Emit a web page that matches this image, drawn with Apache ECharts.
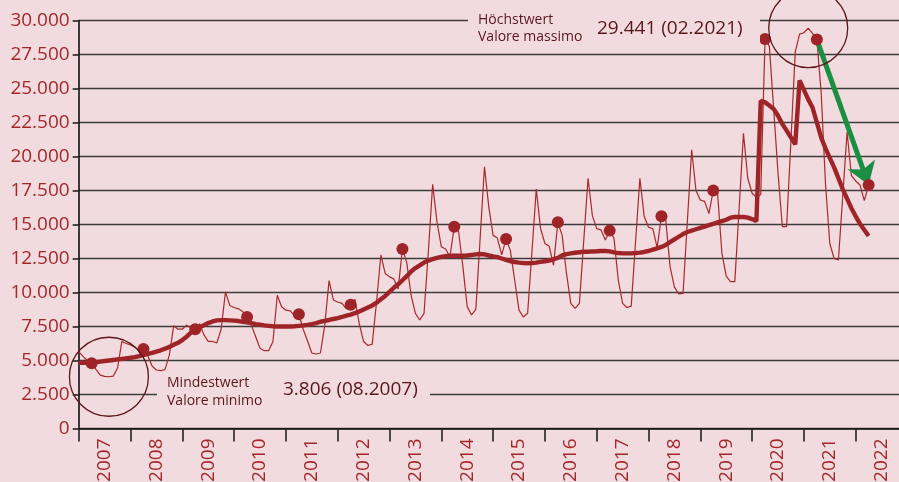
<!DOCTYPE html>
<html><head><meta charset="utf-8">
<script src="https://cdn.jsdelivr.net/npm/echarts@6/dist/echarts.min.js"></script>
<style>html,body{margin:0;padding:0;background:#f1dbde;}#c{width:899px;height:482px;}</style>
</head><body><div id="c"></div>
<script>
// ---- data ----
const years = ['2007','2008','2009','2010','2011','2012','2013','2014','2015','2016','2017','2018','2019','2020','2021','2022'];
// monthly values, Jan 2007 .. Apr 2022
const monthly = [
 5650,5300,5000,4800,4350,3920,3830,3806,3850,4450,6400,6250,
 6150,6000,5700,5850,5350,4600,4300,4250,4350,5400,7550,7300,
 7300,7600,7400,7300,7700,6900,6400,6400,6300,7300,10050,9050,
 8900,8800,8600,8200,7600,6750,5900,5720,5720,6400,9800,8950,
 8700,8650,8300,8400,7300,6450,5550,5480,5550,7600,10870,9450,
 9300,9200,8800,9100,9500,7700,6400,6100,6200,9300,12760,11400,
 11150,11000,10250,13200,12200,9800,8470,7980,8470,13000,17950,15200,
 13370,13200,12630,14840,14500,11900,8960,8350,8760,14000,19250,16300,
 14200,14000,12760,13930,13100,10900,8700,8200,8470,13000,17600,14700,
 13600,13400,12000,15160,14200,11400,9200,8840,9200,13800,18400,15650,
 14700,14600,13860,14550,14000,10900,9200,8900,9000,13700,18400,15600,
 14800,14700,13300,15600,15300,11900,10400,9900,9930,15200,20500,17500,
 16800,16700,15800,17500,17300,12900,11200,10800,10800,16200,21700,18400,
 17300,17000,17200,28640,28100,23500,18800,14850,14850,21200,27700,29000,
 29100,29441,29050,28600,24700,18000,13600,12500,12400,17100,21800,18600,
 18200,17900,16750,17900
];
// trend line, same months
const trend = [
 4840,4840,4840,4850,4880,4920,4960,5000,5040,5080,5120,5160,
 5200,5250,5320,5400,5480,5560,5650,5750,5870,6000,6150,6300,
 6500,6750,7050,7250,7450,7600,7750,7870,7950,7970,7970,7950,
 7930,7900,7850,7800,7750,7680,7630,7580,7550,7520,7500,7500,
 7500,7500,7520,7550,7580,7620,7680,7750,7850,7920,7980,8050,
 8120,8200,8300,8380,8480,8600,8750,8900,9050,9250,9500,9750,
 10050,10350,10600,10900,11200,11550,11800,12000,12200,12350,12450,12550,
 12620,12670,12700,12700,12700,12700,12720,12760,12800,12830,12800,12720,
 12650,12600,12500,12400,12300,12240,12200,12170,12150,12170,12200,12250,
 12300,12350,12450,12550,12730,12820,12880,12920,12960,13000,13000,13020,
 13030,13050,13050,13020,12950,12900,12880,12880,12880,12900,12930,12980,
 13050,13150,13250,13350,13500,13700,13900,14100,14300,14450,14550,14650,
 14750,14850,14950,15050,15150,15250,15350,15500,15550,15550,15550,15500,
 15400,15250,24100,23980,23750,23500,23000,22400,21900,21400,20900,25600,
 24900,24200,23600,22500,21400,20600,19900,19200,18400,17600,16900,16200,
 15600,15050,14600,14150
];
const markerMonth = 3;            // April of every year is marked
const minIndex = 7, maxIndex = 169; // 08.2007 and 02.2021
const arrowFrom = 171, arrowTo = 183;
const minTitle = ['Mindestwert','Valore minimo'];
const maxTitle = ['Höchstwert','Valore massimo'];

// ---- helpers ----
const fmt = v => String(v).replace(/\B(?=(\d{3})+(?!\d))/g, '.');
const pad2 = n => (n < 10 ? '0' : '') + n;
const dateOf = i => pad2(i % 12 + 1) + '.' + (2007 + Math.floor(i / 12));
const lineData = monthly.map((v, i) => [i, v]);
const trendData = trend.map((v, i) => [i, v]);
const dots = lineData.filter(d => d[0] % 12 === markerMonth);

const BG = '#f1dbde', RED = '#9e2428', DARK = '#5a171b';
const FONT = 'Open Sans';

const chart = echarts.init(document.getElementById('c'), null, {renderer: 'canvas'});
chart.setOption({
  backgroundColor: BG,
  animation: false,
  grid: {left: 78.7, right: -8.5, top: 20.5, bottom: 53.5, containLabel: false, outerBoundsMode: 'none'},
  xAxis: [
    {type: 'category', data: years, boundaryGap: true, position: 'bottom',
     axisLine: {lineStyle: {color: '#111', width: 1.6}},
     axisTick: {show: true, length: 13, interval: 0, lineStyle: {color: '#222', width: 1.6}},
     axisLabel: {rotate: 90, margin: 10, interval: 0, color: '#a3282c', fontSize: 19, fontFamily: FONT},
     splitLine: {show: false}},
    {type: 'value', min: 0, max: 192, show: false}
  ],
  yAxis: {
    type: 'value', min: 0, max: 30000, interval: 2500,
    axisLine: {show: true, lineStyle: {color: '#111', width: 1.6}},
    axisTick: {show: true, length: 6, lineStyle: {color: '#222', width: 1.6}},
    axisLabel: {color: '#a3282c', fontSize: 19, fontFamily: FONT, margin: 9, formatter: fmt},
    splitLine: {show: true, lineStyle: {color: '#3c3c3c', width: 1.3}}
  },
  series: [
    {type: 'line', xAxisIndex: 1, data: lineData, showSymbol: false, z: 3,
     lineStyle: {color: '#a8292d', width: 1.2}},
    {type: 'line', xAxisIndex: 1, data: trendData, showSymbol: false, z: 4,
     lineStyle: {color: RED, width: 4.4}},
    {type: 'scatter', xAxisIndex: 1, data: dots, symbolSize: 12, z: 5,
     itemStyle: {color: RED, opacity: 1},
     markLine: {silent: true, symbol: ['none', 'arrow'], symbolSize: 22,
       label: {show: false},
       lineStyle: {color: '#1a8f42', width: 5, type: 'solid', opacity: 1},
       data: [[{coord: [arrowFrom, monthly[arrowFrom]]}, {coord: [arrowTo, monthly[arrowTo]]}]]}},
    {type: 'scatter', xAxisIndex: 1, silent: true, z: 6,
     data: [[minIndex, monthly[minIndex]], [maxIndex, monthly[maxIndex]]],
     symbolSize: 79,
     itemStyle: {color: 'rgba(0,0,0,0)', borderColor: '#5c1518', borderWidth: 1.3, opacity: 1}}
  ],
  graphic: [
    {type: 'rect', shape: {x: 157, y: 374, width: 273, height: 36}, style: {fill: BG}, z: 50},
    {type: 'text', x: 167, y: 383, z: 51, style: {text: minTitle[0], fill: DARK, font: '14px "' + FONT + '"', verticalAlign: 'middle'}},
    {type: 'text', x: 167, y: 401, z: 51, style: {text: minTitle[1], fill: DARK, font: '14px "' + FONT + '"', verticalAlign: 'middle'}},
    {type: 'text', x: 283, y: 390, z: 51, style: {text: fmt(monthly[minIndex]) + ' (' + dateOf(minIndex) + ')', fill: DARK, font: '19px "' + FONT + '"', verticalAlign: 'middle'}},
    {type: 'rect', shape: {x: 468, y: 6, width: 292, height: 42}, style: {fill: BG}, z: 50},
    {type: 'text', x: 478, y: 20.5, z: 51, style: {text: maxTitle[0], fill: DARK, font: '14px "' + FONT + '"', verticalAlign: 'middle'}},
    {type: 'text', x: 478, y: 37.5, z: 51, style: {text: maxTitle[1], fill: DARK, font: '14px "' + FONT + '"', verticalAlign: 'middle'}},
    {type: 'text', x: 597, y: 28.5, z: 51, style: {text: fmt(monthly[maxIndex]) + ' (' + dateOf(maxIndex) + ')', fill: DARK, font: '19px "' + FONT + '"', verticalAlign: 'middle'}}
  ]
});
</script></body></html>
